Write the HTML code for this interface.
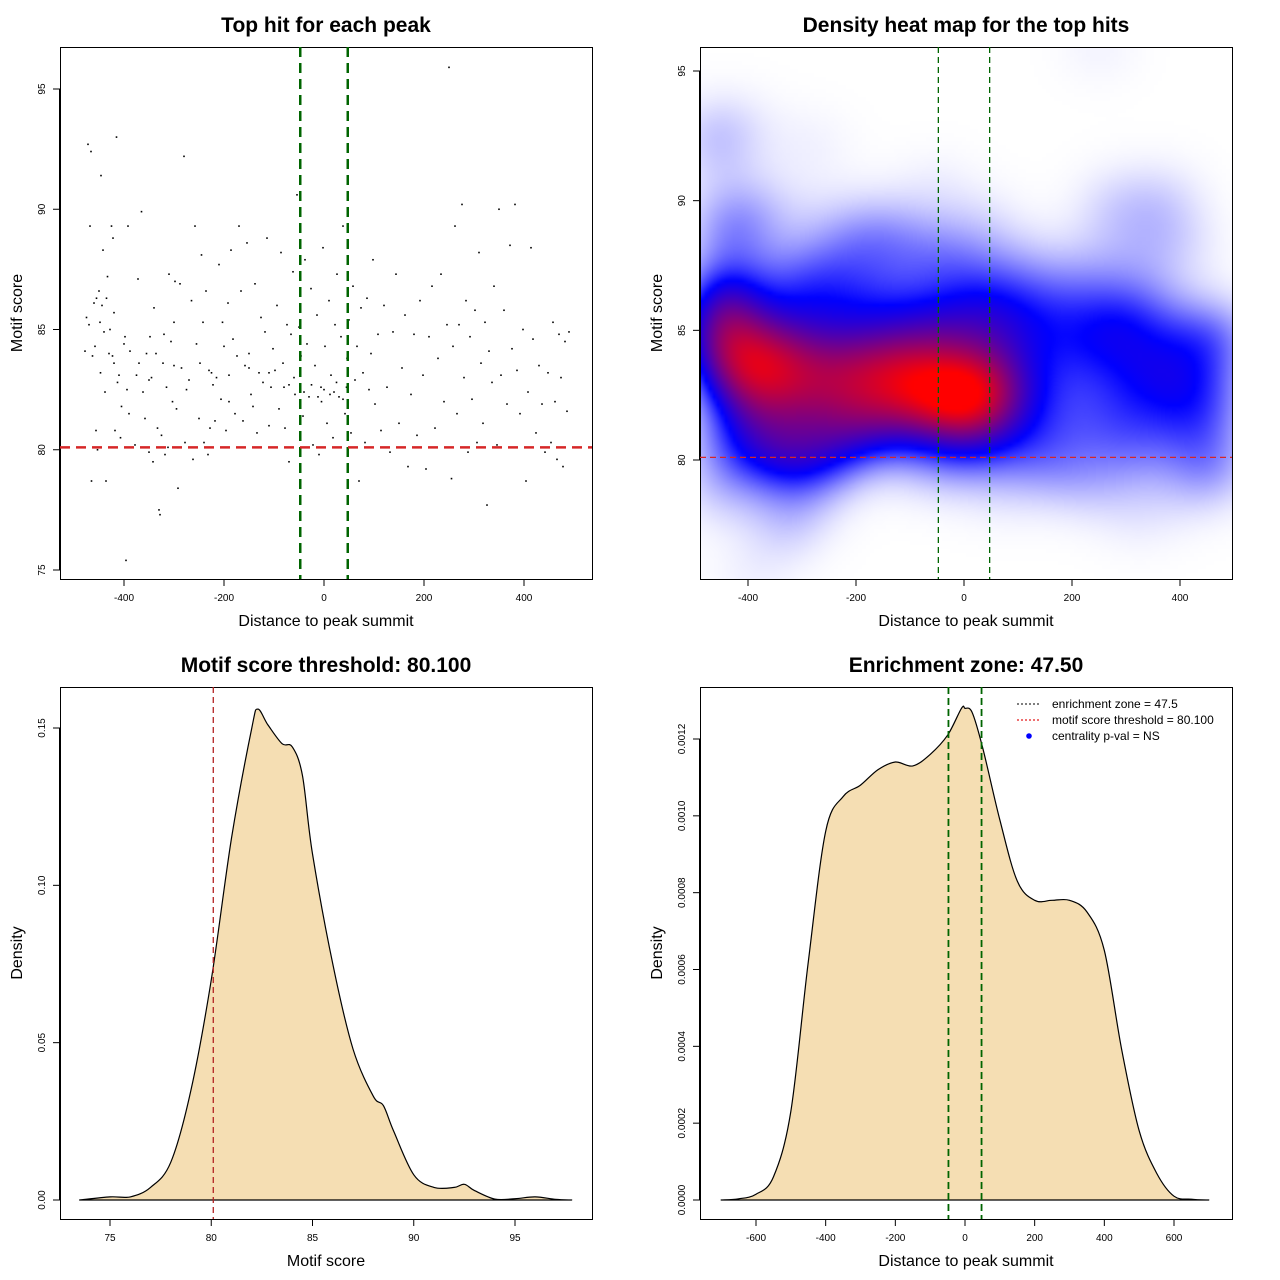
<!DOCTYPE html>
<html><head><meta charset="utf-8">
<style>
html,body{margin:0;padding:0;background:#fff;}
#wrap{position:relative;width:1280px;height:1280px;font-family:"Liberation Sans",sans-serif;}
#heat{position:absolute;left:700px;top:47px;width:532px;height:532px;}
svg{position:absolute;left:0;top:0;}
</style></head>
<body>
<div id="wrap">
<canvas id="heat" width="133" height="133"></canvas>
<svg id="svg" width="1280" height="1280" xmlns="http://www.w3.org/2000/svg"></svg>
</div>
<script>
// ---- data ----
const scatterX = [-478,-475,-472,-470,-468,-466,-465,-463,-460,-458,-456,-455,-453,-450,-448,-447,-446,-444,-442,-440,-438,-436,-435,-433,-430,-428,-425,-423,-422,-420,-418,-415,-413,-410,-407,-405,-400,-398,-396,-394,-392,-390,-388,
-378,-375,-372,-370,-365,-362,-358,-355,-350,-348,-345,-342,-340,-336,-333,-330,-328,-325,-322,-320,-318,-315,-312,-310,-306,-303,-300,-298,-295,-292,
-288,-285,-280,-278,-275,-270,-265,-262,-258,-255,-250,-248,-245,-242,-240,-236,-232,-228,-225,-222,-218,-215,-210,-206,-203,-200,
-196,-192,-190,-186,-182,-178,-174,-170,-166,-162,-158,-154,-150,-146,-142,-138,-134,-130,-126,-122,-118,-114,-110,-106,-102,
-98,-94,-90,-86,-82,-78,-74,-70,-66,-62,-58,-54,-50,-46,-42,-38,-34,-30,-26,-22,-18,-14,-10,-6,-2,
2,6,10,14,18,22,26,30,34,38,42,46,50,54,58,62,66,70,74,78,82,86,90,94,98,
102,108,114,120,126,132,138,144,150,156,162,168,174,180,186,192,198,
204,210,216,222,228,234,240,246,250,255,258,262,266,270,276,280,284,288,292,296,
302,306,310,314,318,322,326,330,336,340,346,350,354,360,366,372,376,382,386,392,398,
404,408,414,418,424,430,436,442,448,454,458,462,466,470,474,478,482,486,490,
-40,-25,-12,0,12,25,38,-60,-80,-110,-150,-190,-230,-300,-350,-420,20,45,-5,-70];
const scatterY = [84.1,85.5,92.7,85.2,89.3,92.4,78.7,83.9,86.1,84.3,80.8,86.3,80,86.6,85.3,83.2,91.4,86,88.3,84.9,82.4,78.7,86.3,87.2,84.0,85,89.3,83.9,88.8,85.7,80.8,93,82.8,83.1,80.5,81.8,84.4,84.7,75.4,82.5,89.3,81.5,84.1,
80.2,83.1,87.1,83.6,89.9,82.4,81.3,84,79.9,84.7,83,79.5,85.9,84,80.9,77.5,77.3,80.6,83.6,84.8,79.8,82.6,80.1,87.3,84.5,82.0,85.3,87,81.7,78.4,
86.9,83.4,92.2,80.3,82.5,82.9,86.2,79.6,89.3,84.4,81.3,83.6,88.1,85.3,80.3,86.6,79.8,80.9,83.2,82.7,81.2,83,87.7,82.1,85.3,84.3,
80.8,86.1,82,88.3,84.6,81.5,83.9,89.3,86.6,81.2,83.5,88.6,84,82.3,81.8,86.9,80.7,83.2,85.5,82.8,84.9,88.8,81,82.6,84.2,
83.3,86,81.7,88.2,83.6,80.9,85.2,79.5,84.8,87.4,82.3,90.6,85.1,83.9,81.4,87.9,84.4,82.2,86.7,80.2,83.5,85.6,79.8,82.6,88.4,
84.3,81.1,86.2,83.1,80.5,85.2,87.3,82.2,84.7,89.3,81.5,83.8,85.4,80.7,86.8,82.9,84.3,78.7,85.9,83.2,80.3,86.3,82.5,84,87.9,
81.9,84.8,80.8,86,82.6,79.9,84.9,87.3,81.1,83.4,85.6,79.3,82.3,84.8,80.6,86.2,83.1,
79.2,84.7,86.8,80.9,83.8,87.3,82,85.2,95.9,78.8,84.3,89.3,81.5,85.2,90.2,83,86.2,79.9,84.7,82.1,
85.8,80.3,88.2,83.6,81.1,85.3,77.7,84.1,82.8,86.8,80.2,90,83.1,85.8,81.9,88.5,84.2,90.2,83.3,81.5,85,
78.7,82.4,88.4,84.6,80.7,83.5,81.9,79.9,83.2,80.3,85.3,82,79.6,84.8,83,79.3,84.5,81.6,84.9,
82.4,82.7,82.2,82.5,82.3,82.8,82.1,83.0,82.6,83.2,83.4,83.1,83.3,83.5,82.9,83.6,82.4,82.6,82.0,82.7];

const dens3X = [73.5,75,76,77,78,79,80,81,82,82.3,82.8,83.5,84,84.5,85,86,87,88,88.5,89,90,91,92,92.5,93,94,95,96,97,97.8];
const dens3Y = [0,0.001,0.001,0.004,0.012,0.035,0.07,0.115,0.15,0.156,0.151,0.145,0.144,0.135,0.11,0.075,0.048,0.033,0.03,0.022,0.008,0.004,0.004,0.005,0.003,0.0003,0.0004,0.001,0.0002,0];
const dens4X = [-700,-650,-600,-550,-500,-450,-400,-350,-300,-250,-200,-150,-100,-50,-10,0,20,50,100,150,200,250,300,350,400,450,500,550,600,650,700];
const dens4Y = [0,0.000003,0.000015,0.00006,0.00023,0.00062,0.00096,0.00105,0.00108,0.00112,0.00114,0.00113,0.00116,0.00121,0.00128,0.00128,0.00127,0.00118,0.00099,0.00083,0.00078,0.00078,0.00078,0.00075,0.00065,0.00039,0.00018,0.00007,0.00001,0.000002,0];

const ticks1X = [-400,-200,0,200,400];
const ticks1Y = [75,80,85,90,95];
const ticks3X = [75,80,85,90,95];
const ticks3Y = [0,0.05,0.10,0.15];
const ticks3YLab = ["0.00","0.05","0.10","0.15"];
const ticks4X = [-600,-400,-200,0,200,400,600];
const ticks4Y = [0,0.0002,0.0004,0.0006,0.0008,0.0010,0.0012];
const ticks4YLab = ["0.0000","0.0002","0.0004","0.0006","0.0008","0.0010","0.0012"];
const threshold = [80.1];
const zone = [-47.5, 47.5];

// ---- helpers ----
const NS="http://www.w3.org/2000/svg";
const svg=document.getElementById('svg');
function el(tag,attrs,parent){const e=document.createElementNS(NS,tag);for(const k in attrs)e.setAttribute(k,attrs[k]);(parent||svg).appendChild(e);return e;}
function lin(d0,d1,r0,r1){return v=>r0+(v-d0)*(r1-r0)/(d1-d0);}
function smooth(P){let d='';for(let i=0;i<P.length-1;i++){const p0=P[Math.max(0,i-1)],p1=P[i],p2=P[i+1],p3=P[Math.min(P.length-1,i+2)];
  const c1x=p1[0]+(p2[0]-p0[0])/6,c1y=p1[1]+(p2[1]-p0[1])/6,c2x=p2[0]-(p3[0]-p1[0])/6,c2y=p2[1]-(p3[1]-p1[1])/6;
  d+=` C${c1x.toFixed(1)},${c1y.toFixed(1)} ${c2x.toFixed(1)},${c2y.toFixed(1)} ${p2[0].toFixed(1)},${p2[1].toFixed(1)}`;}return d;}

function frame(x0,y0,title,xlab,ylab,nm){
  const g=el('g',{});
  
  
  const r=el('rect',{x:x0+0.5,y:y0+0.5,width:532,height:532,fill:'none',stroke:'#000','stroke-width':1},g);
  
  const t=el('text',{x:x0+266,y:y0-15,'text-anchor':'middle','font-size':21,'font-weight':'bold'},g);t.textContent=title;
  
  const xl=el('text',{x:x0+266,y:y0+579,'text-anchor':'middle','font-size':16},g);xl.textContent=xlab;
  
  const yl=el('text',{x:0,y:0,'text-anchor':'middle','font-size':16,transform:`translate(${x0-38},${y0+266}) rotate(-90)`},g);yl.textContent=ylab;
  
  return g;
}
function axes(g,x0,y0,xs,ys,xt,yt,xlabs,ylabs,nm){
  const ax=el('g',{},g);
  el('line',{x1:xs(xt[0]),x2:xs(xt[xt.length-1]),y1:y0+532.5,y2:y0+532.5,stroke:'#000'},ax);
  xt.forEach((v,i)=>{const x=xs(v);el('line',{x1:x,x2:x,y1:y0+532,y2:y0+539,stroke:'#000'},ax);
    const t=el('text',{x:x,y:y0+554,'text-anchor':'middle','font-size':10},ax);t.textContent=xlabs?xlabs[i]:String(v);});
  const ay=el('g',{},g);
  el('line',{x1:x0-0.5,x2:x0-0.5,y1:ys(yt[0]),y2:ys(yt[yt.length-1]),stroke:'#000'},ay);
  yt.forEach((v,i)=>{const y=ys(v);el('line',{x1:x0-7,x2:x0,y1:y,y2:y,stroke:'#000'},ay);
    const t=el('text',{x:0,y:0,'text-anchor':'middle','font-size':10,transform:`translate(${x0-15},${y}) rotate(-90)`},ay);t.textContent=ylabs?ylabs[i]:String(v);});
}

// ---- panel 1: scatter ----
{
  const X0=60,Y0=47;
  const xs=lin(0,400,324,524), ys=lin(80,95,449.75,89);
  const g=frame(X0,Y0,'Top hit for each peak','Distance to peak summit','Motif score','scatter');
  axes(g,X0,Y0,xs,ys,ticks1X,ticks1Y,null,null,'scatter');
  const pts=el('g',{},g);
  scatterX.forEach((v,i)=>{const c=el('rect',{x:xs(v)-0.8,y:ys(scatterY[i])-0.8,width:1.6,height:1.6,fill:'#000'},pts);
    });
  zone.forEach(z=>{const l=el('line',{x1:xs(z),x2:xs(z),y1:Y0,y2:Y0+532,stroke:'#006400','stroke-width':2.5,'stroke-dasharray':'10,6'},g);
    });
  const h=el('line',{x1:X0,x2:X0+532,y1:ys(threshold[0]),y2:ys(threshold[0]),stroke:'#d62728','stroke-width':2.5,'stroke-dasharray':'10,6'},g);
  
}

// ---- panel 2: heat map ----
{
  const X0=700,Y0=47;
  const xs=lin(0,400,964,1180), ys=lin(80,95,460,71);
  const cv=document.getElementById('heat'),ctx=cv.getContext('2d');
  const N=133,img=ctx.createImageData(N,N),D=new Float64Array(N*N);
  const bx=60,by=1.15;let mx=0;
  for(let j=0;j<N;j++){const py=Y0+(j+0.5)*4;const yv=80+(460-py)/ (389/15);
    for(let i=0;i<N;i++){const px=X0+(i+0.5)*4;const xv=(px-964)*400/216;
      let s=0;for(let k=0;k<scatterX.length;k++){const dx=(xv-scatterX[k])/bx,dy=(yv-scatterY[k])/by;const q=dx*dx+dy*dy;if(q<16)s+=Math.exp(-0.5*q);}
      D[j*N+i]=s;if(s>mx)mx=s;}}
  for(let p=0;p<N*N;p++){let t=D[p]/mx;let r,g2,b;
    if(t<0.42){const u=Math.pow(t/0.42,1.4);r=255*(1-u);g2=255*(1-u);b=255;}
    else{const u=Math.min(1,(t-0.42)/0.5);r=255*u;g2=0;b=255*(1-u);}
    img.data[p*4]=r;img.data[p*4+1]=g2;img.data[p*4+2]=b;img.data[p*4+3]=255;}
  ctx.putImageData(img,0,0);
  const g=frame(X0,Y0,'Density heat map for the top hits','Distance to peak summit','Motif score','heatmap');
  axes(g,X0,Y0,xs,ys,ticks1X,[80,85,90,95],null,null,'heatmap');
  zone.forEach(z=>{const l=el('line',{x1:xs(z),x2:xs(z),y1:Y0,y2:Y0+532,stroke:'#006400','stroke-width':1.3,'stroke-dasharray':'6,4'},g);
    });
  const h=el('line',{x1:X0,x2:X0+532,y1:ys(threshold[0]),y2:ys(threshold[0]),stroke:'#d62728','stroke-width':1.3,'stroke-dasharray':'6,4'},g);
  
}

// ---- panel 3: score density ----
{
  const X0=60,Y0=687;
  const xs=lin(75,95,110,515), ys=lin(0,0.15,1200,728);
  const g=frame(X0,Y0,'Motif score threshold: 80.100','Motif score','Density','score-density');
  axes(g,X0,Y0,xs,ys,ticks3X,ticks3Y,null,ticks3YLab,'score-density');
  const P=dens3X.map((v,i)=>[xs(v),ys(dens3Y[i])]);
  const d='M'+P[0][0]+','+P[0][1]+smooth(P)+' Z';
  const p=el('path',{d:d,fill:'#f5deb3',stroke:'#000','stroke-width':1.2,'stroke-linejoin':'round'},g);
  
  const l=el('line',{x1:xs(threshold[0]),x2:xs(threshold[0]),y1:Y0,y2:Y0+532,stroke:'#b22222','stroke-width':1.3,'stroke-dasharray':'6,4'},g);
  
}

// ---- panel 4: distance density ----
{
  const X0=700,Y0=687;
  const xs=lin(-600,600,756,1174), ys=lin(0,0.0012,1200,739);
  const g=frame(X0,Y0,'Enrichment zone: 47.50','Distance to peak summit','Density','distance-density');
  axes(g,X0,Y0,xs,ys,ticks4X,ticks4Y,null,ticks4YLab,'distance-density');
  const P=dens4X.map((v,i)=>[xs(v),ys(dens4Y[i])]);
  const d='M'+P[0][0]+','+P[0][1]+smooth(P)+' Z';
  const p=el('path',{d:d,fill:'#f5deb3',stroke:'#000','stroke-width':1.2,'stroke-linejoin':'round'},g);
  
  zone.forEach(z=>{const l=el('line',{x1:xs(z),x2:xs(z),y1:Y0,y2:Y0+532,stroke:'#006400','stroke-width':1.8,'stroke-dasharray':'7,4'},g);
    });
  const lg=el('g',{},g);
  const items=[['enrichment zone = 47.5','#333','line'],['motif score threshold = 80.100','#e41a1c','line'],['centrality p-val = NS','#0000ff','dot']];
  items.forEach((it,i)=>{const y=704+i*16;
    const e=el('g',{},lg);
    if(it[2]==='line')el('line',{x1:1017,x2:1041,y1:y,y2:y,stroke:it[1],'stroke-width':1.2,'stroke-dasharray':'2,2'},e);
    else el('circle',{cx:1029,cy:y,r:2.8,fill:it[1]},e);
    const t=el('text',{x:1052,y:y+4,'font-size':12},e);t.textContent=it[0];});
}
</script>
</body></html>
